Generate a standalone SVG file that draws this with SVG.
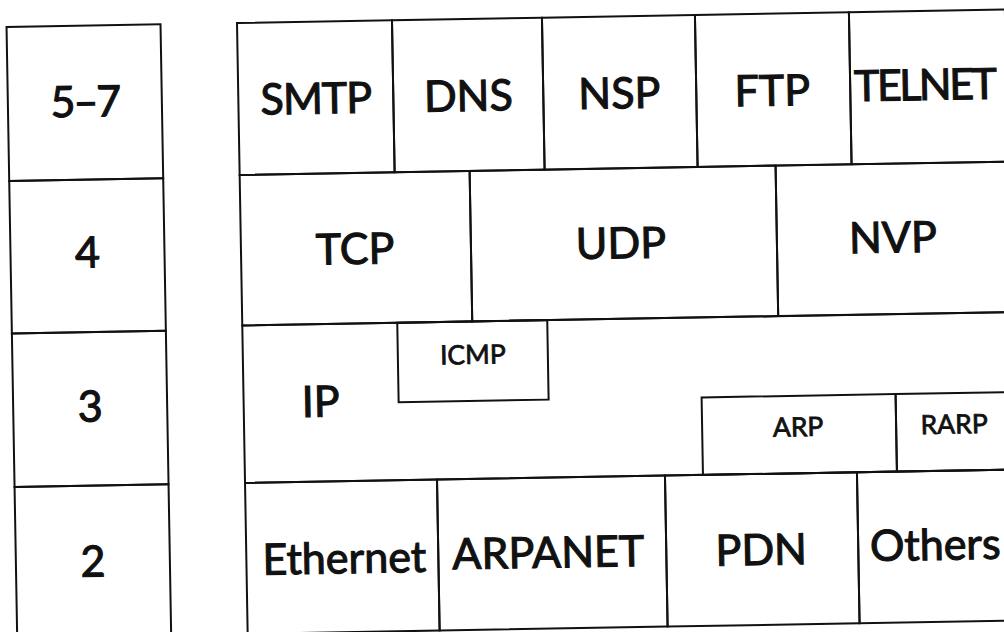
<svg xmlns="http://www.w3.org/2000/svg" width="1004" height="632" viewBox="0 0 1004 632">
<style>
.cell{fill:none;stroke:#111;stroke-width:2}
.big{font-family:Lato,"Liberation Sans",sans-serif;font-size:43px;fill:#111;stroke:#111;stroke-width:1.1;text-anchor:middle}
.small{font-family:Lato,"Liberation Sans",sans-serif;font-size:26.5px;fill:#111;stroke:#111;stroke-width:0.8;text-anchor:middle}
</style>
<rect x="0" y="0" width="1004" height="632" fill="#fff"/>
<g transform="rotate(-1 237 23)">
<g id="layers">
<g id="layer57"><rect class="cell" x="6.5" y="23" width="154" height="154"/><text class="big" x="83.5" y="114" letter-spacing="-2">5–7</text></g>
<g id="layer4"><rect class="cell" x="6.5" y="177" width="154" height="152.5"/><text class="big" x="83.5" y="265">4</text></g>
<g id="layer3"><rect class="cell" x="6.5" y="329.5" width="154" height="153.5"/><text class="big" x="83.5" y="419">3</text></g>
<g id="layer2"><rect class="cell" x="6.5" y="483" width="154" height="170"/><text class="big" x="83.5" y="574">2</text></g>
</g>
<g id="protocols">
<g id="smtp"><rect class="cell" x="237" y="23" width="155" height="152"/><text class="big" x="314.5" y="115" letter-spacing="-1">SMTP</text></g>
<g id="dns"><rect class="cell" x="392" y="23" width="150" height="152"/><text class="big" x="467" y="115">DNS</text></g>
<g id="nsp"><rect class="cell" x="542" y="23" width="153" height="152"/><text class="big" x="618" y="115">NSP</text></g>
<g id="ftp"><rect class="cell" x="695" y="23" width="154" height="152"/><text class="big" x="771" y="115">FTP</text></g>
<g id="telnet"><rect class="cell" x="849" y="23" width="156" height="152"/><text class="big" x="923" y="112" letter-spacing="-2.5">TELNET</text></g>
<g id="tcp"><rect class="cell" x="237" y="175" width="230" height="150.5"/><text class="big" x="351" y="266">TCP</text></g>
<g id="udp"><rect class="cell" x="467" y="175" width="306" height="150.5"/><text class="big" x="617" y="265">UDP</text></g>
<g id="nvp"><rect class="cell" x="773" y="175" width="232" height="150.5"/><text class="big" x="889" y="264">NVP</text></g>
<g id="ip"><rect class="cell" x="237" y="325.5" width="768" height="157.5"/><text class="big" x="314" y="418">IP</text></g>
<g id="icmp"><rect class="cell" x="392" y="325.5" width="150" height="79.5"/><text class="small" x="467" y="368">ICMP</text></g>
<g id="arp"><rect class="cell" x="695" y="405.5" width="194" height="77.5"/><text class="small" x="791" y="446">ARP</text></g>
<g id="rarp"><rect class="cell" x="889" y="405.5" width="116" height="77.5"/><text class="small" x="947" y="446">RARP</text></g>
<g id="ethernet"><rect class="cell" x="237" y="483" width="192" height="151"/><text class="big" x="335" y="575">Ethernet</text></g>
<g id="arpanet"><rect class="cell" x="429" y="483" width="228" height="151"/><text class="big" x="539" y="573">ARPANET</text></g>
<g id="pdn"><rect class="cell" x="657" y="483" width="192" height="151"/><text class="big" x="752" y="574">PDN</text></g>
<g id="others"><rect class="cell" x="849" y="483" width="156" height="151"/><text class="big" x="926" y="572">Others</text></g>
</g>
<g id="connectors"/>
</g>
</svg>
